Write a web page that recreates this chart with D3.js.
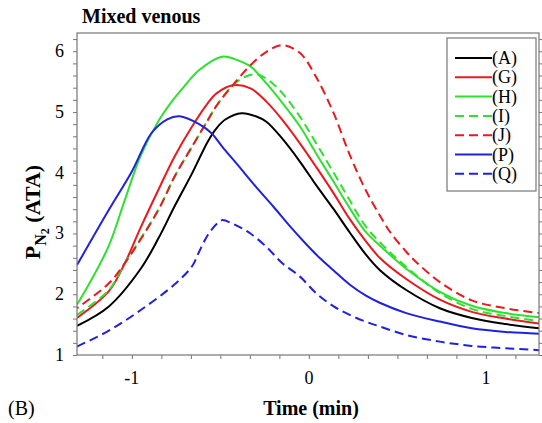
<!DOCTYPE html>
<html>
<head>
<meta charset="utf-8">
<script src="https://d3js.org/d3.v7.min.js"></script>
<style>
  body { margin: 0; background: #fff; }
  text { font-family: "Liberation Serif", "Times New Roman", serif; }
</style>
</head>
<body>
<div id="my_dataviz"></div>
<script>
// curves: [time (min), PN2 (ATA)]
var curveA = [[-1.31,1.48],[-1.13,1.80],[-0.95,2.42],[-0.85,2.92],[-0.76,3.44],[-0.66,3.99],[-0.57,4.52],[-0.52,4.74],[-0.47,4.88],[-0.38,4.98],[-0.30,4.93],[-0.24,4.84],[-0.15,4.56],[-0.05,4.18],[0.04,3.80],[0.14,3.40],[0.23,3.02],[0.32,2.66],[0.40,2.40],[0.55,2.07],[0.74,1.77],[0.92,1.61],[1.11,1.51],[1.30,1.44]]
var curveG = [[-1.31,1.61],[-1.13,2.05],[-1.04,2.51],[-0.95,3.10],[-0.85,3.72],[-0.76,4.26],[-0.66,4.76],[-0.57,5.15],[-0.52,5.31],[-0.43,5.44],[-0.33,5.39],[-0.24,5.17],[-0.15,4.87],[-0.05,4.48],[0.04,4.10],[0.14,3.66],[0.23,3.24],[0.32,2.88],[0.40,2.60],[0.55,2.25],[0.74,1.91],[0.92,1.71],[1.11,1.60],[1.30,1.52]]
var curveH = [[-1.31,1.83],[-1.23,2.23],[-1.13,2.80],[-1.04,3.55],[-0.95,4.28],[-0.85,4.85],[-0.78,5.15],[-0.71,5.40],[-0.62,5.69],[-0.49,5.91],[-0.40,5.85],[-0.33,5.75],[-0.24,5.47],[-0.15,5.15],[-0.05,4.76],[0.04,4.32],[0.14,3.85],[0.23,3.42],[0.32,3.03],[0.42,2.75],[0.55,2.42],[0.74,2.04],[0.92,1.81],[1.11,1.69],[1.30,1.62]]
var curveI = [[-1.31,1.66],[-1.13,2.07],[-1.04,2.51],[-0.85,3.39],[-0.76,3.93],[-0.66,4.43],[-0.57,4.87],[-0.52,5.11],[-0.43,5.44],[-0.36,5.58],[-0.30,5.62],[-0.24,5.55],[-0.15,5.31],[-0.05,4.92],[0.04,4.49],[0.14,4.00],[0.23,3.55],[0.32,3.12],[0.42,2.80],[0.55,2.45],[0.74,2.02],[0.92,1.76],[1.11,1.64],[1.30,1.56]]
var curveJ = [[-1.31,1.77],[-1.13,2.18],[-1.04,2.51],[-0.85,3.39],[-0.76,3.93],[-0.66,4.43],[-0.57,4.87],[-0.52,5.11],[-0.43,5.44],[-0.33,5.77],[-0.24,5.99],[-0.15,6.10],[-0.05,5.97],[0.04,5.58],[0.14,4.98],[0.23,4.30],[0.32,3.72],[0.40,3.30],[0.46,3.02],[0.55,2.70],[0.61,2.52],[0.74,2.20],[0.92,1.90],[1.11,1.77],[1.30,1.69]]
var curveP = [[-1.31,2.48],[-1.13,3.39],[-1.00,4.02],[-0.89,4.65],[-0.80,4.88],[-0.73,4.93],[-0.62,4.80],[-0.55,4.65],[-0.49,4.43],[-0.40,4.12],[-0.30,3.77],[-0.20,3.44],[-0.11,3.13],[-0.02,2.84],[0.06,2.60],[0.14,2.39],[0.23,2.16],[0.32,1.98],[0.40,1.86],[0.55,1.69],[0.74,1.55],[0.92,1.44],[1.11,1.38],[1.30,1.35]]
var curveQ = [[-1.31,1.14],[-1.13,1.40],[-0.95,1.74],[-0.76,2.16],[-0.66,2.46],[-0.62,2.70],[-0.57,2.98],[-0.52,3.16],[-0.49,3.22],[-0.43,3.16],[-0.38,3.09],[-0.33,3.00],[-0.24,2.78],[-0.15,2.51],[-0.05,2.29],[0.04,2.02],[0.14,1.80],[0.23,1.66],[0.32,1.55],[0.40,1.47],[0.55,1.33],[0.74,1.22],[0.92,1.15],[1.11,1.11],[1.30,1.08]]

var seriesNames = ["(A)", "(G)", "(H)", "(I)", "(J)", "(P)", "(Q)"]
var xTicks = [-1, 0, 1]
var yTicks = [1, 2, 3, 4, 5, 6]

var colors = ["#000000", "#e8191f", "#2fe02f", "#2fe02f", "#e8191f", "#1f22dc", "#1f22dc"]
var dashed = [false, false, false, true, true, false, true]
var allCurves = [curveA, curveG, curveH, curveI, curveJ, curveP, curveQ]

// set the dimensions and margins of the graph
var margin = {top: 33, right: 3, bottom: 68, left: 77},
    width = 542 - margin.left - margin.right,
    height = 423 - margin.top - margin.bottom;

var svg = d3.select("#my_dataviz")
  .append("svg")
    .attr("width", 542)
    .attr("height", 423)

var g = svg.append("g")
    .attr("transform", "translate(" + margin.left + "," + margin.top + ")");

var x = d3.scaleLinear().domain([-1.31, 1.30]).range([0, width])
var y = d3.scaleLinear().domain([1, 6.3]).range([height, 0])

// minor tick positions
var xMinor = d3.range(-7, 8).map(function(i) { return i / 6; })
var yMinor = d3.range(5, 32).map(function(i) { return i / 5; })

g.append("defs").append("clipPath").attr("id", "clip")
  .append("rect").attr("width", width).attr("height", height)

// curves
var line = d3.line()
  .x(function(d) { return x(d[0]); })
  .y(function(d) { return y(d[1]); })
  .curve(d3.curveCatmullRom.alpha(0.5))

g.append("g").attr("clip-path", "url(#clip)")
  .selectAll("path")
  .data(allCurves)
  .enter()
  .append("path")
    .attr("d", line)
    .attr("fill", "none")
    .attr("stroke", function(d, i) { return colors[i]; })
    .attr("stroke-width", 2)
    .attr("stroke-dasharray", function(d, i) { return dashed[i] ? "9,5" : null; })
    .attr("stroke-dashoffset", function(d, i) { return i == 4 ? 7 : 0; })

// axes
var axisColor = "#777"
var xAxis = g.append("g")
  .attr("transform", "translate(0," + height + ")")
  .call(d3.axisBottom(x).tickValues(xMinor).tickSize(4).tickFormat(""))
var yAxis = g.append("g")
  .call(d3.axisLeft(y).tickValues(yMinor).tickSize(4).tickFormat(""))
var yAxisR = g.append("g")
  .attr("transform", "translate(" + width + ",0)")
  .call(d3.axisRight(y).tickValues(yMinor).tickSize(4).tickFormat(""))
g.selectAll(".domain").remove()
g.selectAll(".tick line").attr("stroke", axisColor)

g.append("rect")
  .attr("width", width).attr("height", height)
  .attr("fill", "none").attr("stroke", axisColor).attr("stroke-width", 1.2)

// tick labels
g.selectAll(".xlab")
  .data(xTicks)
  .enter()
  .append("text")
    .attr("x", function(d) { return x(d); })
    .attr("y", height + 29)
    .attr("text-anchor", "middle")
    .style("font-size", "18px")
    .text(function(d) { return d; })

g.selectAll(".ylab")
  .data(yTicks)
  .enter()
  .append("text")
    .attr("x", -13)
    .attr("y", function(d) { return y(d) + 6; })
    .attr("text-anchor", "end")
    .style("font-size", "18px")
    .text(function(d) { return d; })

// titles
svg.append("text")
  .attr("x", 82).attr("y", 23)
  .style("font-size", "20px").style("font-weight", "bold")
  .text("Mixed venous")

svg.append("text")
  .attr("x", 311).attr("y", 415)
  .attr("text-anchor", "middle")
  .style("font-size", "20px").style("font-weight", "bold")
  .text("Time (min)")

svg.append("text")
  .attr("x", 8).attr("y", 415)
  .style("font-size", "20px")
  .text("(B)")

var yl = svg.append("text")
  .attr("transform", "translate(40,212)rotate(-90)")
  .attr("text-anchor", "middle")
  .style("font-size", "22px").style("font-weight", "bold")
yl.append("tspan").text("P")
yl.append("tspan").attr("dy", 6).style("font-size", "16px").text("N")
yl.append("tspan").attr("dy", 3).style("font-size", "12px").text("2")
yl.append("tspan").attr("dy", -9).text(" (ATA)")

// legend
var legend = svg.append("g")
legend.append("rect")
  .attr("x", 447).attr("y", 38)
  .attr("width", 89).attr("height", 153)
  .attr("fill", "#fff").attr("stroke", axisColor).attr("stroke-width", 1.2)

var items = legend.selectAll(".item")
  .data(seriesNames)
  .enter()
  .append("g")
    .attr("transform", function(d, i) { return "translate(0," + (58 + i * 19.3) + ")"; })
items.append("line")
  .attr("x1", 455).attr("x2", 492)
  .attr("stroke", function(d, i) { return colors[i]; })
  .attr("stroke-width", 2)
  .attr("stroke-dasharray", function(d, i) { return dashed[i] ? "9,5" : null; })
items.append("text")
  .attr("x", 492).attr("y", 6)
  .style("font-size", "18px")
  .text(function(d) { return d; })
</script>
</body>
</html>
